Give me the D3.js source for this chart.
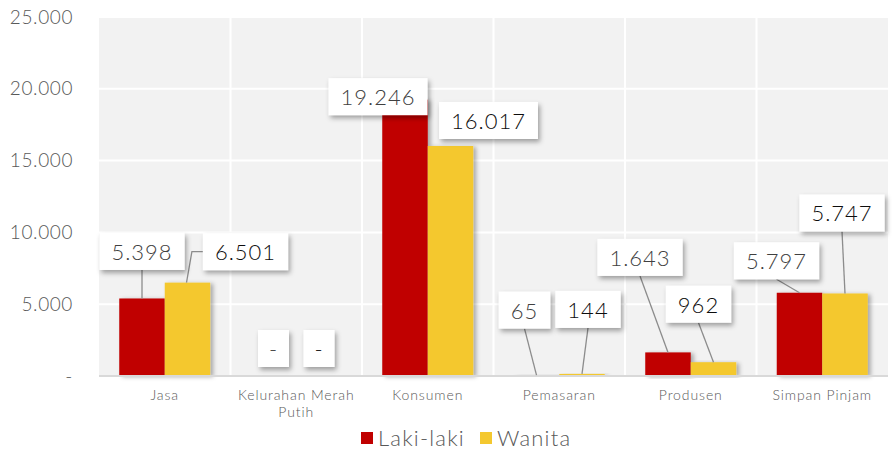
<!DOCTYPE html>
<html>
<head>
<meta charset="utf-8">
<script src="https://cdn.jsdelivr.net/npm/d3@7"></script>
<style>
  body { margin: 0; background: #fff; }
  text { font-family: "Lato", "Open Sans", sans-serif; font-weight: 300; }
</style>
</head>
<body>
<script>
const width = 892;
const height = 454;

// data
const categories = ["Jasa", "Kelurahan Merah Putih", "Konsumen", "Pemasaran", "Produsen", "Simpan Pinjam"];
const seriesNames = ["Laki-laki", "Wanita"];
const lakiLaki = [5398, 0, 19246, 65, 1643, 5797];
const wanita = [6501, 0, 16017, 144, 962, 5747];
const yTicks = [0, 5000, 10000, 15000, 20000, 25000];
const colors = ["#C00000", "#F4C82F"];
const labelColors = ["#404040", "#0d0d0d"];

// label box offsets from the bar's top centre (dx, dy), per series
const labelOffsets = [
    [[0, -47], [0, -27.5], [-27, -3], [-12, -65], [-28, -95], [-23, -32]],
    [[58, -31], [0, -27.5], [38, -25.5], [6, -64.5], [-15, -58], [-3, -80.5]]
];

const fmt = v => v === 0 ? "-" : d3.format(",")(v).replace(/,/g, ".");

const svg = d3.select("body").append("svg")
    .attr("width", width)
    .attr("height", height);

const defs = svg.append("defs");
defs.append("filter").attr("id", "shadow")
    .attr("x", "-20%").attr("y", "-20%").attr("width", "150%").attr("height", "160%")
    .append("feDropShadow")
    .attr("dx", 2).attr("dy", 3).attr("stdDeviation", 2.5)
    .attr("flood-color", "#000").attr("flood-opacity", 0.35);
defs.append("filter").attr("id", "barShadow")
    .attr("x", "-20%").attr("y", "-10%").attr("width", "150%").attr("height", "120%")
    .append("feDropShadow")
    .attr("dx", 3).attr("dy", 1).attr("stdDeviation", 2)
    .attr("flood-color", "#000").attr("flood-opacity", 0.3);

const x = d3.scaleBand().domain(categories).range([99, 888]).padding(0);
const xs = d3.scaleBand().domain([0, 1]).range([0, 91]);
const groupOffset = (x.bandwidth() - 91) / 2;
const y = d3.scaleLinear().domain([0, 25000]).range([376, 17]);

// plot background
svg.append("rect")
    .attr("x", 99).attr("y", y(25000))
    .attr("width", 888 - 99).attr("height", y(0) - y(25000))
    .attr("fill", "#f2f2f2");

// horizontal gridlines
svg.append("g").selectAll("line")
    .data(yTicks.slice(1))
    .join("line")
    .attr("x1", 99).attr("x2", 888)
    .attr("y1", d => y(d)).attr("y2", d => y(d))
    .attr("stroke", "#fff").attr("stroke-width", 2);

// vertical gridlines at category boundaries
svg.append("g").selectAll("line")
    .data(categories.slice(1))
    .join("line")
    .attr("x1", d => x(d)).attr("x2", d => x(d))
    .attr("y1", y(25000)).attr("y2", y(0))
    .attr("stroke", "#fff").attr("stroke-width", 2);

// y axis labels
const yAxis = svg.append("g")
    .attr("transform", "translate(73,0)")
    .call(d3.axisLeft(y).tickValues(yTicks).tickFormat(fmt).tickSize(0).tickPadding(0));
yAxis.select(".domain").remove();
yAxis.selectAll("text")
    .attr("font-size", 19).attr("fill", "#595959")
    .attr("letter-spacing", 0.6)
    .style("font-family", "Lato, sans-serif");

// bars
const bars = [];
categories.forEach((c, i) => {
    [lakiLaki[i], wanita[i]].forEach((v, s) => {
        bars.push({ cat: c, i, s, v });
    });
});

svg.append("g").selectAll("rect")
    .data(bars.filter(d => d.v > 0))
    .join("rect")
    .attr("x", d => x(d.cat) + groupOffset + xs(d.s))
    .attr("y", d => y(d.v))
    .attr("width", xs.bandwidth())
    .attr("height", d => y(0) - y(d.v))
    .attr("fill", d => colors[d.s])
    .attr("filter", "url(#barShadow)");

// baseline
svg.append("line")
    .attr("x1", 99).attr("x2", 888)
    .attr("y1", y(0)).attr("y2", y(0))
    .attr("stroke", "#d9d9d9").attr("stroke-width", 2);

// category labels (wrapped)
const xAxis = svg.append("g");
categories.forEach(c => {
    const t = xAxis.append("text")
        .attr("x", x(c) + x.bandwidth() / 2)
        .attr("y", 400)
        .attr("text-anchor", "middle")
        .attr("font-size", 14)
        .attr("letter-spacing", 0.9)
        .attr("fill", "#595959");
    const words = c.split(" ");
    let line = [];
    let ts = t.append("tspan").attr("x", x(c) + x.bandwidth() / 2);
    words.forEach(w => {
        line.push(w);
        ts.text(line.join(" "));
        if (ts.node().getComputedTextLength() > 126 && line.length > 1) {
            line.pop();
            ts.text(line.join(" "));
            line = [w];
            ts = t.append("tspan").attr("x", x(c) + x.bandwidth() / 2)
                .attr("dy", 17).text(w);
        }
    });
});

// data labels
const labels = svg.append("g");
bars.forEach(d => {
    const bx = x(d.cat) + groupOffset + xs(d.s) + xs.bandwidth() / 2;
    const by = y(d.v);
    const [dx, dy] = labelOffsets[d.s][d.i];
    const cx = bx + dx, cy = by + dy;

    const g = labels.append("g");
    const t = g.append("text")
        .attr("x", cx).attr("y", cy)
        .attr("text-anchor", "middle")
        .attr("dominant-baseline", "central")
        .attr("font-size", 22)
        .attr("letter-spacing", 1)
        .attr("fill", labelColors[d.s])
        .text(fmt(d.v));
    const tw = t.node().getComputedTextLength();
    const bw = d.v === 0 ? 31 : tw + 24;
    const bh = 37;
    const left = cx - bw / 2, top = cy - bh / 2, bottom = cy + bh / 2;

    // leader line
    if (by - bottom > 10) {
        let pts;
        if (bx < left) {
            pts = [[left, cy], [left - 11, cy], [bx - 1, by]];
        } else {
            pts = [[cx, bottom], [bx, by]];
        }
        labels.insert("path", "g")
            .attr("d", d3.line()(pts))
            .attr("fill", "none")
            .attr("stroke", "#8c8c8c")
            .attr("stroke-width", 1.3);
    }

    g.insert("rect", "text")
        .attr("x", left).attr("y", top)
        .attr("width", bw).attr("height", bh)
        .attr("fill", "#fff")
        .attr("filter", "url(#shadow)");
});

// legend
const legend = svg.append("g");
const legendX = [361, 480];
seriesNames.forEach((n, s) => {
    legend.append("rect")
        .attr("x", legendX[s]).attr("y", 432)
        .attr("width", 12).attr("height", 12)
        .attr("fill", colors[s]);
    legend.append("text")
        .attr("x", legendX[s] + 17).attr("y", 446)
        .attr("font-size", 22)
        .attr("letter-spacing", 1.2)
        .attr("fill", "#595959")
        .text(n);
});
</script>
</body>
</html>
